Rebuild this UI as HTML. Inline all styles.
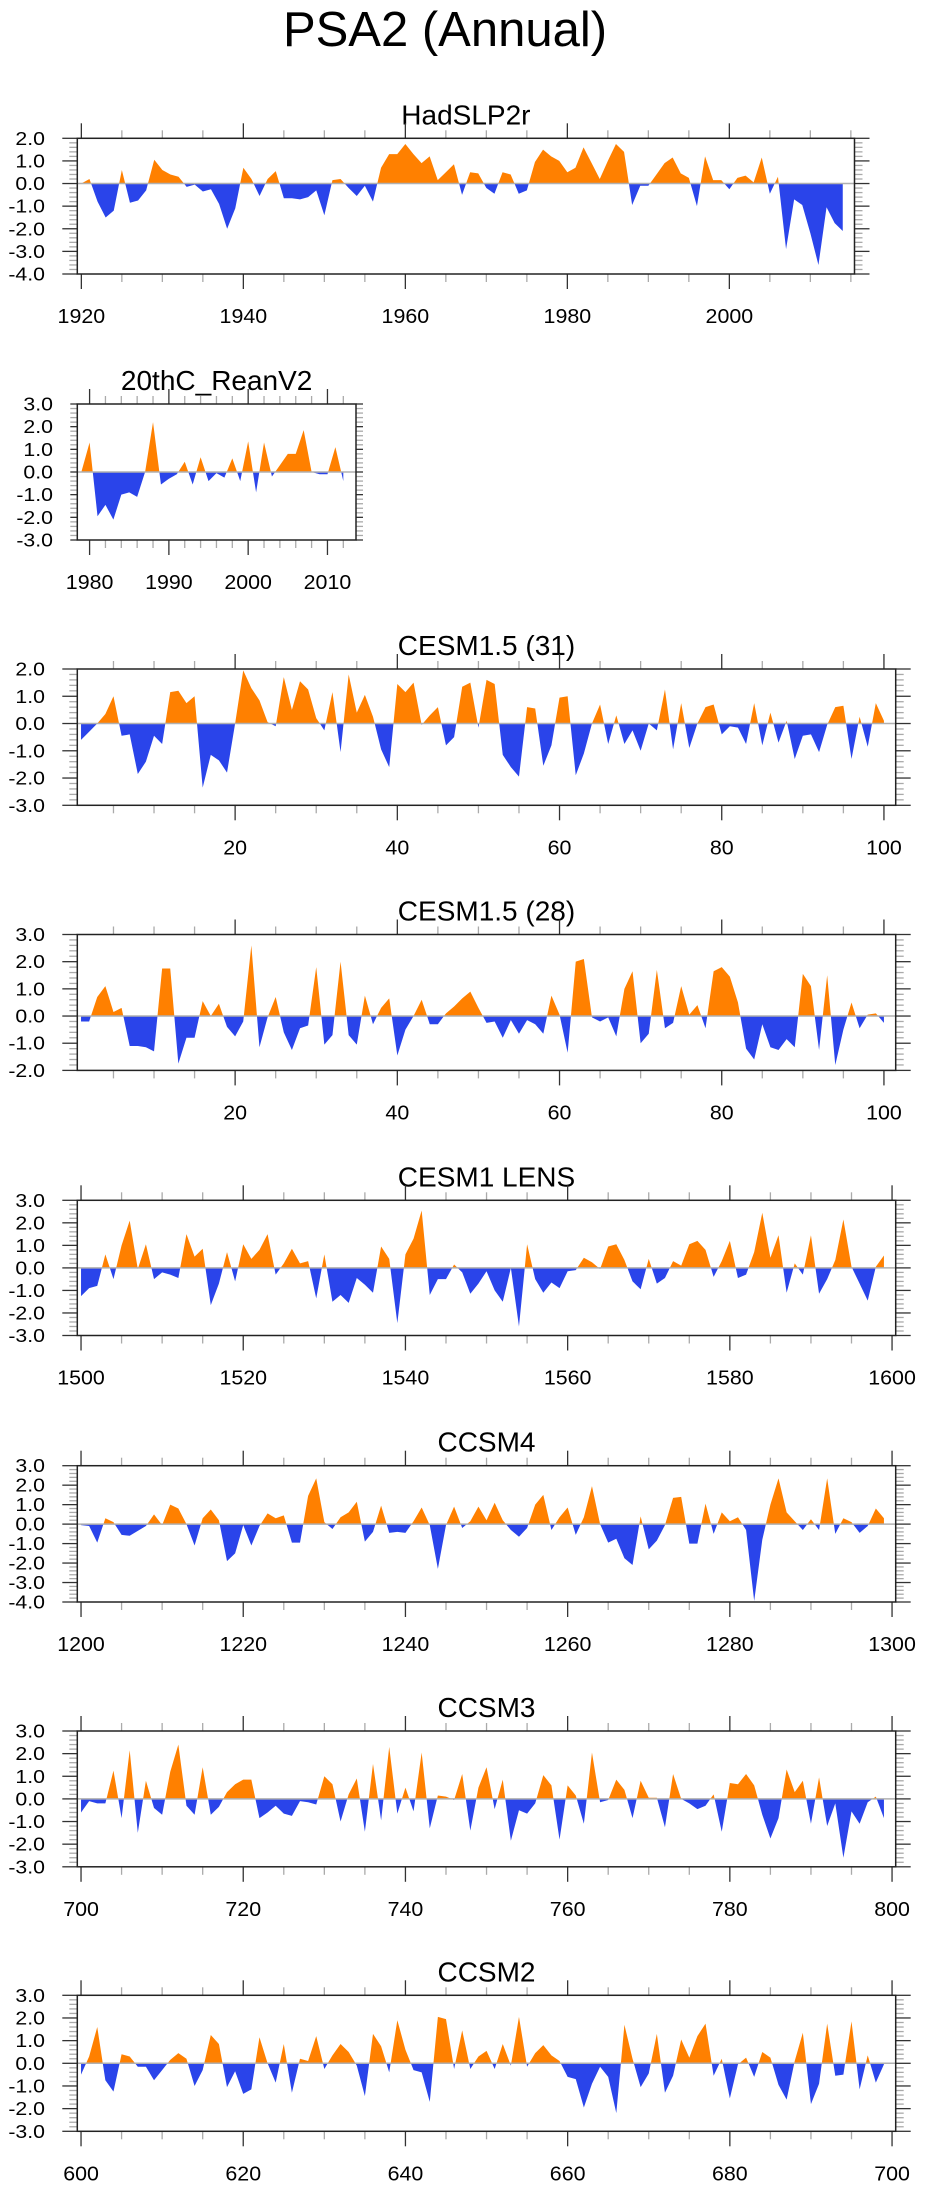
<!DOCTYPE html>
<html><head><meta charset="utf-8"><style>
html,body{margin:0;padding:0;background:#fff;}
svg{display:block;font-family:"Liberation Sans",sans-serif;}
</style></head><body>
<svg id="fig" width="925" height="2191" viewBox="0 0 925 2191" xmlns="http://www.w3.org/2000/svg">
<text x="445" y="46" font-size="49" text-anchor="middle" fill="#000">PSA2 (Annual)</text>
</svg>
<script>
const hadslpValues=[0.0,0.2,-0.8,-1.5,-1.2,0.6,-0.85,-0.75,-0.3,1.05,0.6,0.4,0.3,-0.15,-0.05,-0.35,-0.25,-0.9,-2.0,-1.1,0.7,0.2,-0.55,0.2,0.55,-0.65,-0.65,-0.7,-0.6,-0.3,-1.4,0.15,0.2,-0.2,-0.55,-0.1,-0.8,0.7,1.3,1.3,1.75,1.3,0.9,1.2,0.15,0.5,0.85,-0.5,0.5,0.45,-0.2,-0.45,0.5,0.4,-0.45,-0.3,0.95,1.5,1.2,1.0,0.5,0.7,1.6,0.9,0.2,1.0,1.75,1.4,-0.95,-0.1,-0.1,0.4,0.9,1.15,0.45,0.25,-1.0,1.2,0.15,0.15,-0.25,0.25,0.35,0.05,1.15,-0.45,0.3,-2.9,-0.7,-0.95,-2.2,-3.6,-1.05,-1.75,-2.1];
const reanValues=[0.05,1.3,-1.95,-1.45,-2.1,-1.0,-0.9,-1.1,0.0,2.2,-0.55,-0.3,-0.1,0.45,-0.55,0.65,-0.4,-0.05,-0.25,0.6,-0.4,1.35,-0.9,1.3,-0.2,0.3,0.8,0.8,1.85,0.0,-0.1,-0.1,1.1,-0.4];
const cesm31Values=[-0.6,-0.3,0.0,0.35,1.0,-0.45,-0.4,-1.85,-1.4,-0.45,-0.75,1.15,1.2,0.75,1.0,-2.35,-1.15,-1.35,-1.8,0.0,1.95,1.3,0.85,0.05,-0.1,1.7,0.5,1.55,1.25,0.2,-0.25,1.15,-1.05,1.8,0.4,1.05,0.25,-0.95,-1.6,1.45,1.15,1.5,-0.05,0.3,0.6,-0.8,-0.5,1.35,1.5,-0.15,1.6,1.45,-1.15,-1.6,-1.95,0.6,0.55,-1.55,-0.8,0.95,1.0,-1.9,-1.1,0.0,0.7,-0.75,0.3,-0.75,-0.25,-1.0,0.0,-0.25,1.25,-0.95,0.75,-0.9,0.0,0.6,0.7,-0.4,-0.1,-0.15,-0.75,0.75,-0.8,0.4,-0.7,0.1,-1.3,-0.45,-0.4,-1.05,-0.05,0.6,0.65,-1.3,0.25,-0.85,0.75,0.1];
const cesm28Values=[-0.2,-0.2,0.7,1.1,0.15,0.3,-1.1,-1.1,-1.15,-1.3,1.75,1.75,-1.75,-0.8,-0.8,0.55,0.0,0.45,-0.4,-0.75,-0.2,2.6,-1.15,-0.05,0.7,-0.6,-1.25,-0.45,-0.35,1.8,-1.05,-0.7,2.0,-0.7,-1.05,0.75,-0.3,0.3,0.65,-1.45,-0.5,0.0,0.6,-0.3,-0.3,0.1,0.35,0.65,0.9,0.3,-0.25,-0.2,-0.8,-0.15,-0.65,-0.15,-0.3,-0.65,0.75,0.05,-1.35,2.0,2.1,-0.05,-0.2,-0.05,-0.75,1.0,1.65,-1.0,-0.65,1.7,-0.45,-0.25,1.1,0.05,0.4,-0.45,1.65,1.8,1.45,0.5,-1.2,-1.6,-0.3,-1.15,-1.25,-0.85,-1.15,1.55,1.1,-1.25,1.5,-1.8,-0.5,0.5,-0.45,0.05,0.1,-0.25];
const lensValues=[-1.25,-0.9,-0.8,0.6,-0.5,1.0,2.1,-0.05,1.05,-0.5,-0.2,-0.3,-0.45,1.5,0.5,0.85,-1.65,-0.7,0.7,-0.6,1.05,0.4,0.8,1.5,-0.3,0.2,0.85,0.2,0.3,-1.35,0.6,-1.5,-1.2,-1.55,-0.45,-0.75,-1.1,0.95,0.4,-2.45,0.6,1.3,2.55,-1.2,-0.5,-0.5,0.15,-0.2,-1.15,-0.7,-0.15,-1.0,-1.5,0.0,-2.6,1.05,-0.5,-1.1,-0.65,-0.9,-0.15,-0.1,0.45,0.25,-0.05,0.95,1.05,0.35,-0.6,-0.95,0.4,-0.7,-0.45,0.3,0.1,1.05,1.2,0.8,-0.4,0.3,1.2,-0.45,-0.3,0.7,2.45,0.45,1.45,-1.1,0.2,-0.3,1.45,-1.15,-0.5,0.35,2.15,0.05,-0.7,-1.45,0.05,0.55];
const ccsm4Values=[-0.05,-0.1,-0.95,0.3,0.1,-0.55,-0.6,-0.35,-0.1,0.5,-0.05,1.0,0.8,0.0,-1.1,0.3,0.75,0.2,-1.9,-1.5,-0.05,-1.1,-0.1,0.55,0.3,0.45,-0.95,-0.95,1.45,2.35,0.1,-0.25,0.35,0.6,1.15,-0.9,-0.4,0.95,-0.45,-0.4,-0.45,0.15,0.85,-0.05,-2.3,-0.05,0.9,-0.2,0.15,0.9,0.2,1.1,0.2,-0.3,-0.65,-0.2,1.0,1.5,-0.3,0.35,0.85,-0.55,0.35,1.95,0.0,-0.95,-0.75,-1.75,-2.1,0.4,-1.3,-0.85,-0.05,1.35,1.4,-1.0,-1.0,1.05,-0.5,0.6,0.15,0.35,-0.3,-3.95,-0.8,1.0,2.35,0.6,0.15,-0.3,0.25,-0.3,2.35,-0.5,0.3,0.1,-0.45,-0.1,0.8,0.3];
const ccsm3Values=[-0.6,-0.1,-0.2,-0.2,1.25,-0.85,2.15,-1.5,0.8,-0.4,-0.7,1.2,2.4,-0.3,-0.7,1.4,-0.7,-0.35,0.3,0.65,0.85,0.85,-0.85,-0.6,-0.3,-0.65,-0.75,-0.1,-0.15,-0.25,1.0,0.65,-1.0,0.2,0.9,-1.45,1.55,-0.95,2.3,-0.65,0.5,-0.55,2.05,-1.3,0.15,0.1,-0.05,1.1,-1.4,0.5,1.4,-0.45,0.85,-1.85,-0.5,-0.65,-0.2,1.05,0.6,-1.8,0.6,0.15,-1.1,2.05,-0.15,-0.05,0.85,0.4,-0.85,0.8,0.05,0.05,-1.25,1.1,0.0,-0.2,-0.45,-0.3,0.2,-1.45,0.7,0.65,1.1,0.6,-0.7,-1.75,-0.85,1.3,0.3,0.8,-1.1,0.95,-1.2,-0.2,-2.6,-0.55,-1.1,-0.15,0.1,-0.85];
const ccsm2Values=[-0.5,0.3,1.6,-0.75,-1.25,0.4,0.3,-0.15,-0.15,-0.75,-0.3,0.15,0.45,0.2,-1.0,-0.3,1.25,0.85,-1.05,-0.35,-1.35,-1.15,1.15,0.0,-0.85,0.85,-1.3,0.2,0.1,1.2,-0.25,0.35,0.85,0.5,-0.1,-1.45,1.3,0.75,-0.4,1.9,0.6,-0.3,-0.4,-1.7,2.05,1.95,-0.25,1.45,-0.25,0.3,0.55,-0.25,0.85,-0.1,2.05,-0.15,0.45,0.8,0.35,0.1,-0.6,-0.7,-1.95,-0.9,-0.15,-0.6,-2.2,1.7,0.2,-1.05,-0.45,1.3,-1.3,-0.55,1.05,0.25,1.2,1.75,-0.55,0.2,-1.55,-0.05,0.25,-0.6,0.5,0.25,-0.95,-1.6,0.1,1.35,-1.8,-0.9,1.75,-0.55,-0.5,1.85,-1.15,0.35,-0.85,-0.05];
const panelTitles=["HadSLP2r","20thC_ReanV2","CESM1.5 (31)","CESM1.5 (28)","CESM1 LENS","CCSM4","CCSM3","CCSM2"];
const firstYears=[1920,1979,1,1,1500,1200,700,600];
const yMins=[-4,-3,-3,-2,-3,-4,-3,-3];
const yMaxs=[2,3,2,3,3,3,3,3];
const xLabelStarts=[1920,1980,20,20,1500,1200,700,600];
const xLabelEnds=[2000,2010,100,100,1600,1300,800,700];
const xLabelSteps=[20,10,20,20,20,20,20,20];
const xMinorSteps=[5,2,5,5,5,5,5,5];
const allValues=[hadslpValues,reanValues,cesm31Values,cesm28Values,lensValues,ccsm4Values,ccsm3Values,ccsm2Values];

// layout (not data)
const L={tops:[138.3,404,669,934.5,1200.3,1465.7,1731,1995.3],bots:[274,540,805.3,1070.4,1335.5,1602,1866.8,2131.3],
 rights:[854.5,356,895.7,895.7,895.7,895.7,895.7,895.7],left:77.3,
 labRight:[45,53,45,45,45,45,45,45],yTick:[15,7,15,15,15,15,15,15]};
const NS="http://www.w3.org/2000/svg";
const svg=document.getElementById('fig');
function mk(tag,attrs,parent){const e=document.createElementNS(NS,tag);for(const k in attrs)e.setAttribute(k,attrs[k]);(parent||svg).appendChild(e);return e;}

for(let p=0;p<8;p++){
  const vals=allValues[p],first=firstYears[p];
  const top=L.tops[p],bot=L.bots[p],left=L.left,right=L.rights[p];
  let xmin,xmax;
  if(p===0){xmin=1919.5;xmax=2015.45;}
  else if(p===1){xmin=1978.45;xmax=2013.6;}
  else{xmin=first-0.46;xmax=first+100.45;}
  const xs=v=>left+(v-xmin)*(right-left)/(xmax-xmin);
  const ys=v=>bot-(v-yMins[p])*(bot-top)/(yMaxs[p]-yMins[p]);
  const g=mk('g',{});
  
  
  const t=mk('text',{x:(left+right)/2,y:top-14,'font-size':28,'text-anchor':'middle',fill:'#000'},g);
  t.textContent=panelTitles[p];
  
  
  const pts=[];
  for(let i=0;i<vals.length;i++){
    const x=first+i,v=vals[i];
    if(i>0){const pv=vals[i-1];if((pv>0&&v<0)||(pv<0&&v>0)){const f=pv/(pv-v);pts.push([x-1+f,0]);}}
    pts.push([x,v]);
  }
  const x0=pts[0][0],x1=pts[pts.length-1][0];
  ['pos','neg'].forEach(kind=>{
    let d='M'+xs(x0)+','+ys(0);
    pts.forEach(q=>{const v=kind==='pos'?Math.max(q[1],0):Math.min(q[1],0);d+='L'+xs(q[0]).toFixed(2)+','+ys(v).toFixed(2);});
    d+='L'+xs(x1)+','+ys(0)+'Z';
    const pa=mk('path',{d:d,fill:kind==='pos'?'#ff8000':'#2a44ea',stroke:'none'},g);
    
    
  });
  const zl=mk('line',{x1:left,x2:right,y1:ys(0),y2:ys(0),stroke:'#b0b0b0','stroke-width':1.5},g);
  
  
  for(let v=yMins[p];v<=yMaxs[p]+1e-6;v+=0.2){
    const vv=Math.round(v*10)/10,y=ys(vv),major=Math.abs(vv-Math.round(vv))<1e-6;
    const len=major?L.yTick[p]:Math.min(8,L.yTick[p]),col=major?'#333':'#aaa';
    mk('line',{x1:left-len,x2:left,y1:y,y2:y,stroke:col,'stroke-width':1.3},g);
    mk('line',{x1:right,x2:right+len,y1:y,y2:y,stroke:col,'stroke-width':1.3},g);
    if(major){
      const yl=mk('text',{x:0,y:0,'font-size':18.5,'text-anchor':'end',fill:'#000',transform:'translate('+L.labRight[p]+','+(y+6.5)+') scale(1.15,1)'},g);
      yl.textContent=vv.toFixed(1);
      
      }
  }
  const ms=xMinorSteps[p];
  for(let v=Math.ceil(xmin/ms)*ms;v<=xmax;v+=ms){
    const x=xs(v),major=(v-xLabelStarts[p])%xLabelSteps[p]===0;
    const len=major?15:8,col=major?'#333':'#aaa';
    mk('line',{x1:x,x2:x,y1:top-len,y2:top,stroke:col,'stroke-width':1.3},g);
    mk('line',{x1:x,x2:x,y1:bot,y2:bot+len,stroke:col,'stroke-width':1.3},g);
  }
  for(let v=xLabelStarts[p];v<=xLabelEnds[p];v+=xLabelSteps[p]){
    const xl=mk('text',{x:0,y:0,'font-size':20,'text-anchor':'middle',fill:'#000',transform:'translate('+xs(v)+','+(bot+49)+') scale(1.07,1)'},g);
    xl.textContent=v;
    
    
  }
  const box=mk('rect',{x:left,y:top,width:right-left,height:bot-top,fill:'none',stroke:'#222','stroke-width':1.5},g);
  
  
}
</script>
</body></html>
